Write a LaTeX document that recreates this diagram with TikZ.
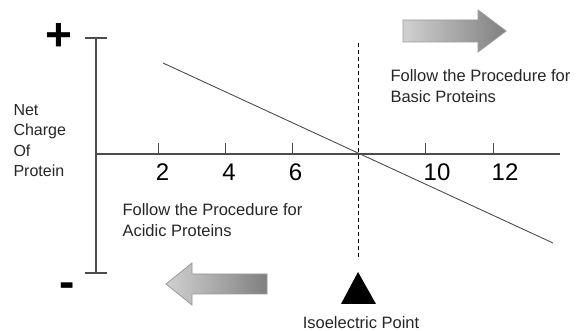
\documentclass[tikz,border=0pt]{standalone}
\usepackage{fontspec}
\setmainfont{Liberation Sans}
\tikzstyle{every node}=[inner sep=0pt, text=black!85]
\tikzstyle{note}=[font=\fontsize{16.5}{21.5}\selectfont, align=left, anchor=base west]
\tikzstyle{ticklabel}=[font=\fontsize{24}{24}\selectfont, text=black, anchor=base]
\tikzstyle{sign}=[font=\fontsize{46}{46}\selectfont\bfseries, text=black, anchor=base]
\tikzstyle{bigarrow}=[draw=black!40, line width=0.8pt, left color=black!18, right color=black!50]

\begin{document}
\begin{tikzpicture}[x=1pt, y=-1pt, line width=1.1pt]
\useasboundingbox (0,0) rectangle (584,331);
% Axes
    \coordinate (ytop) at (96,38);
    \coordinate (ybot) at (96,273);
    \coordinate (xleft) at (96,154);
    \coordinate (xright) at (560,154);
    \draw[black!70] (ytop) -- (ybot);
    \draw[black!70] (xleft) -- (xright);
    \draw[black!70] (85,38) -- (107,38);
    \draw[black!70] (85,273) -- (107,273);
% Ticks
    \draw[black!70, line width=0.9pt] (158,143) -- (158,154);
    \draw[black!70, line width=0.9pt] (225,143) -- (225,154);
    \draw[black!70, line width=0.9pt] (292,143) -- (292,154);
    \draw[black!70, line width=0.9pt] (425,143) -- (425,154);
    \draw[black!70, line width=0.9pt] (493,143) -- (493,154);
    \node[ticklabel] (l2) at (162.5,181) {2};
    \node[ticklabel] (l4) at (229,181) {4};
    \node[ticklabel] (l6) at (295.5,181) {6};
    \node[ticklabel] (l10) at (437,181) {10};
    \node[ticklabel] (l12) at (505,181) {12};
% Charge curve and isoelectric point
    \coordinate (cstart) at (163,63);
    \coordinate (cend) at (553,243);
    \draw[black!70, line width=0.9pt] (cstart) -- (cend);
    \coordinate (pitop) at (358,43);
    \coordinate (pibot) at (358,258);
    \draw[black, line width=0.9pt, dash pattern=on 4pt off 3pt] (pitop) -- (pibot);
    \fill[black] (358,272) -- (376,304) -- (341,304) -- cycle;
    \node[font=\fontsize{16.5}{20}\selectfont, anchor=base] (pi) at (361,328.5) {Isoelectric Point};
% Labels
    \node[sign] (plus) at (58.5,50.5) {+};
    \node[sign] (minus) at (67.5,298) {-};
    \node[note, font=\fontsize{16}{20.5}\selectfont] (ylab) at (13,177) {Net\\Charge\\Of\\Protein};
    \node[note] (basic) at (390,103) {Follow the Procedure for\\Basic Proteins};
    \node[note] (acidic) at (122,237) {Follow the Procedure for\\Acidic Proteins};
% Direction arrows
    \draw[bigarrow] (403,20) -- (478,20) -- (478,10) -- (506,31) -- (478,52) -- (478,42) -- (403,42) -- cycle;
    \draw[bigarrow] (267,274) -- (192,274) -- (192,263) -- (166,284) -- (192,305) -- (192,294) -- (267,294) -- cycle;
\end{tikzpicture}
\end{document}
